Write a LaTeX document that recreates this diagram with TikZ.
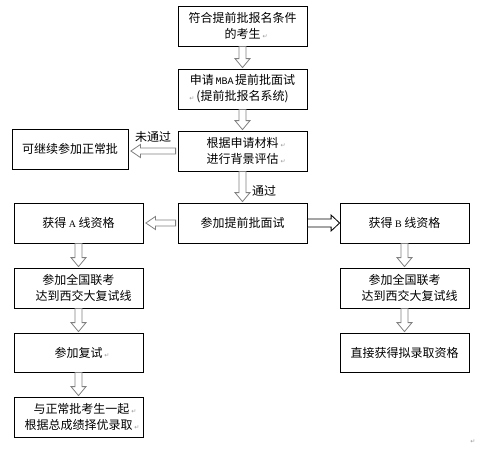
\documentclass[tikz,border=0pt]{standalone}
\usepackage{fontspec}
\setmainfont{Noto Sans CJK SC}
\newfontfamily\monofont{Liberation Mono}
\newfontfamily\serfont{Liberation Serif}
\newfontfamily\symfont{DejaVu Sans}
\usetikzlibrary{calc}
\newcommand\retmark{{\symfont\color{black!40}\fontsize{6}{6}\selectfont ↵}}
\newcommand\rmk{\rlap{\,\retmark}}
\newcommand\lmk{\llap{\retmark\,}}
\newcommand\hdown[2]{\path[harrow] let \p1=(#1.south), \p2=(#2.north) in
  (\x1-3.5pt,\y1) -- (\x1-3.5pt,\y2+10pt) -- (\x1-7.5pt,\y2+10pt) -- (\x1,\y2+1pt)
  -- (\x1+7.5pt,\y2+10pt) -- (\x1+3.5pt,\y2+10pt) -- (\x1+3.5pt,\y1) -- cycle;}
\newcommand\hleft[2]{\path[harrow] let \p1=(#1.west), \p2=(#2.east) in
  (\x1-2pt,\y1+3pt) -- (\x2+12pt,\y1+3pt) -- (\x2+12pt,\y1+6.5pt) -- (\x2+2.5pt,\y1)
  -- (\x2+12pt,\y1-6.5pt) -- (\x2+12pt,\y1-3pt) -- (\x1-2pt,\y1-3pt) -- cycle;}
\newcommand\hright[2]{\path[harrow,draw=black] let \p1=(#1.east), \p2=(#2.west) in
  (\x1,\y1+4pt) -- (\x2-8.5pt,\y1+4pt) -- (\x2-8.5pt,\y1+8pt) -- (\x2,\y1)
  -- (\x2-8.5pt,\y1-8pt) -- (\x2-8.5pt,\y1-4pt) -- (\x1,\y1-4pt) -- cycle;}
\begin{document}
\begin{tikzpicture}[x=1pt,y=-1pt,
  box/.style={draw=black, line width=0.8pt, minimum width=129pt, minimum height=40pt,
    inner sep=0pt, align=center, font=\fontsize{12}{16}\selectfont},
  lbl/.style={inner sep=0pt, font=\fontsize{12}{14}\selectfont},
  harrow/.style={draw=black!50, line width=0.8pt, fill=white, line join=miter}]
\useasboundingbox (0,0) rectangle (485,448);
\fill[white] (0,0) rectangle (485,448);

\node[box] (b1) at (242.5,26) {符合提前批报名条件\\的考生\rmk};
\node[box] (b2) at (242.5,89) {申请{\monofont\fontsize{10}{16}\selectfont\,MBA\,}提前批面试\\\lmk(提前批报名系统)};
\node[box] (b3) at (242.5,151) {根据申请材料\rmk\\进行背景评估\rmk};
\node[box, minimum width=116pt] (nor) at (70,149) {可继续参加正常批};
\node[box] (b4) at (242.5,223) {参加提前批面试};
\node[box] (a1) at (78.5,223) {获得{\serfont\fontsize{10}{16}\selectfont\ A\ }线资格};
\node[box] (bb1) at (404.5,223) {获得{\serfont\fontsize{10}{16}\selectfont\ B\ }线资格};
\node[box] (a2) at (78.5,288) {参加全国联考\\\hspace*{10pt}达到西交大复试线};
\node[box] (bb2) at (404.5,288) {参加全国联考\\\hspace*{10pt}达到西交大复试线};
\node[box, minimum height=39pt] (a3) at (78.5,352.5) {参加复试\rmk};
\node[box, minimum height=39pt] (bb3) at (404.5,352.5) {直接获得拟录取资格};
\node[box] (a4) at (78.5,417) {\hspace*{6pt}与正常批考生一起\rmk\\根据总成绩择优录取\rmk};

\node[lbl] (nt) at (153,137) {未通过};
\node[lbl] (pt) at (264,191) {通过};
\node[inner sep=0pt] (endmark) at (473,442) {\retmark};

\hdown{b1}{b2}
\hdown{b2}{b3}
\hleft{b3}{nor}
\hdown{b3}{b4}
\hleft{b4}{a1}
\hright{b4}{bb1}
\hdown{a1}{a2}
\hdown{a2}{a3}
\hdown{a3}{a4}
\hdown{bb1}{bb2}
\hdown{bb2}{bb3}
\end{tikzpicture}
\end{document}
